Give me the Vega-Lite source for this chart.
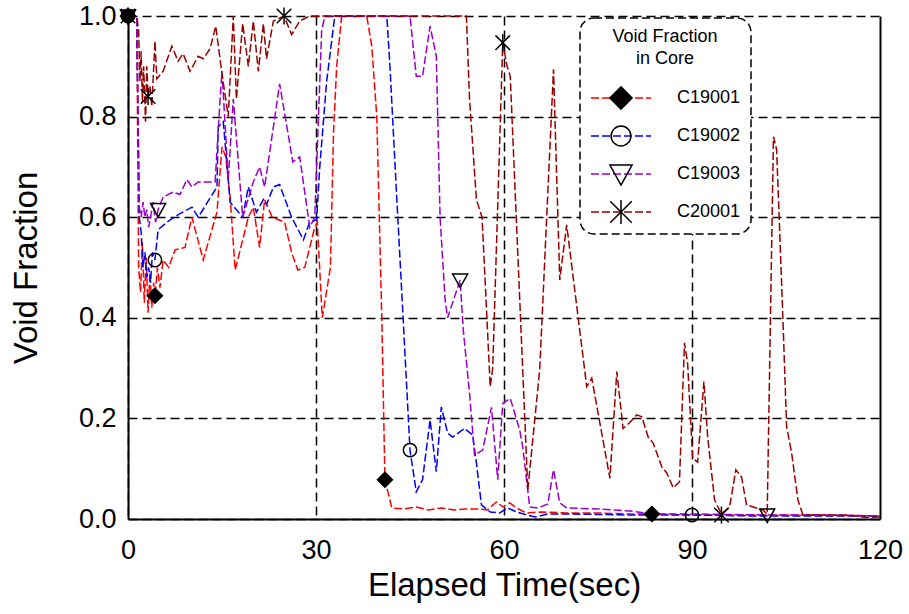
{
  "$schema": "https://vega.github.io/schema/vega-lite/v6.json",
  "width": 752,
  "height": 503,
  "autosize": {"type": "none"},
  "padding": {"left": 128, "top": 16, "right": 29, "bottom": 95},
  "background": "white",
  "config": {
    "view": {"stroke": null},
    "font": "Liberation Sans",
    "axis": {
      "domainColor": "black",
      "domainWidth": 2,
      "gridColor": "black",
      "gridWidth": 1.5,
      "ticks": false,
      "labelFontSize": 27,
      "labelColor": "black",
      "titleFontSize": 33,
      "titleFontWeight": "normal",
      "titleColor": "black"
    },
    "legend": {
      "strokeDash": [8, 4],
      "strokeWidth": 1.5,
      "cornerRadius": 14,
      "padding": 10,
      "labelFontSize": 18,
      "labelColor": "black",
      "titleFontSize": 18,
      "titleFontWeight": "normal",
      "titleLineHeight": 22,
      "titleAnchor": "middle",
      "titleColor": "black",
      "titlePadding": 18,
      "labelOffset": 25,
      "clipHeight": 24,
      "rowPadding": 14,
      "symbolSize": 3600,
      "symbolStrokeWidth": 1.5
    }
  },
  "datasets": {
    "lines": [
      {"series":"C19001","t":0,"v":1},{"series":"C19001","t":1.4,"v":1},{"series":"C19001","t":1.7,"v":0.5},{"series":"C19001","t":2.0,"v":0.45},{"series":"C19001","t":2.3,"v":0.55},{"series":"C19001","t":2.6,"v":0.43},{"series":"C19001","t":2.9,"v":0.52},{"series":"C19001","t":3.2,"v":0.41},{"series":"C19001","t":3.5,"v":0.49},{"series":"C19001","t":3.8,"v":0.42},{"series":"C19001","t":4.1,"v":0.47},{"series":"C19001","t":4.3,"v":0.44},{"series":"C19001","t":4.7,"v":0.5},{"series":"C19001","t":5.1,"v":0.46},{"series":"C19001","t":5.6,"v":0.515},{"series":"C19001","t":6.5,"v":0.5},{"series":"C19001","t":7.5,"v":0.535},{"series":"C19001","t":9.1,"v":0.54},{"series":"C19001","t":10.2,"v":0.6},{"series":"C19001","t":12,"v":0.515},{"series":"C19001","t":14.2,"v":0.61},{"series":"C19001","t":15,"v":0.74},{"series":"C19001","t":15.6,"v":0.72},{"series":"C19001","t":16.3,"v":0.64},{"series":"C19001","t":17.1,"v":0.495},{"series":"C19001","t":19.2,"v":0.6},{"series":"C19001","t":20,"v":0.62},{"series":"C19001","t":21,"v":0.54},{"series":"C19001","t":21.8,"v":0.635},{"series":"C19001","t":23,"v":0.6},{"series":"C19001","t":25,"v":0.59},{"series":"C19001","t":26.1,"v":0.53},{"series":"C19001","t":27.1,"v":0.495},{"series":"C19001","t":28.2,"v":0.5},{"series":"C19001","t":29.8,"v":0.58},{"series":"C19001","t":30.2,"v":0.59},{"series":"C19001","t":31,"v":0.4},{"series":"C19001","t":32.3,"v":0.5},{"series":"C19001","t":32.8,"v":0.77},{"series":"C19001","t":33.3,"v":0.9},{"series":"C19001","t":34.1,"v":1},{"series":"C19001","t":38.1,"v":1},{"series":"C19001","t":38.9,"v":0.94},{"series":"C19001","t":39.7,"v":0.8},{"series":"C19001","t":40.5,"v":0.4},{"series":"C19001","t":41,"v":0.078},{"series":"C19001","t":42.1,"v":0.022},{"series":"C19001","t":44,"v":0.02},{"series":"C19001","t":46,"v":0.024},{"series":"C19001","t":48,"v":0.018},{"series":"C19001","t":50,"v":0.022},{"series":"C19001","t":52,"v":0.018},{"series":"C19001","t":54,"v":0.02},{"series":"C19001","t":56,"v":0.02},{"series":"C19001","t":57.3,"v":0.018},{"series":"C19001","t":58.8,"v":0.034},{"series":"C19001","t":59.8,"v":0.024},{"series":"C19001","t":60.9,"v":0.032},{"series":"C19001","t":62,"v":0.022},{"series":"C19001","t":63.6,"v":0.012},{"series":"C19001","t":66,"v":0.014},{"series":"C19001","t":70,"v":0.012},{"series":"C19001","t":75,"v":0.012},{"series":"C19001","t":80,"v":0.01},{"series":"C19001","t":83.6,"v":0.01},{"series":"C19001","t":90,"v":0.008},{"series":"C19001","t":100,"v":0.008},{"series":"C19001","t":110,"v":0.008},{"series":"C19001","t":120,"v":0.006},
      {"series":"C19002","t":0,"v":1},{"series":"C19002","t":1.4,"v":1},{"series":"C19002","t":1.8,"v":0.6},{"series":"C19002","t":2.1,"v":0.57},{"series":"C19002","t":2.4,"v":0.5},{"series":"C19002","t":2.7,"v":0.53},{"series":"C19002","t":3.0,"v":0.48},{"series":"C19002","t":3.3,"v":0.5},{"series":"C19002","t":3.6,"v":0.47},{"series":"C19002","t":3.9,"v":0.53},{"series":"C19002","t":4.3,"v":0.515},{"series":"C19002","t":4.8,"v":0.575},{"series":"C19002","t":6.2,"v":0.59},{"series":"C19002","t":8,"v":0.605},{"series":"C19002","t":10.2,"v":0.62},{"series":"C19002","t":11.2,"v":0.6},{"series":"C19002","t":14.2,"v":0.66},{"series":"C19002","t":14.4,"v":0.78},{"series":"C19002","t":15.2,"v":0.79},{"series":"C19002","t":16.3,"v":0.63},{"series":"C19002","t":18.3,"v":0.6},{"series":"C19002","t":19.2,"v":0.66},{"series":"C19002","t":20.5,"v":0.61},{"series":"C19002","t":21.6,"v":0.635},{"series":"C19002","t":22.1,"v":0.625},{"series":"C19002","t":23.2,"v":0.66},{"series":"C19002","t":24.2,"v":0.665},{"series":"C19002","t":26.1,"v":0.6},{"series":"C19002","t":28,"v":0.555},{"series":"C19002","t":29,"v":0.59},{"series":"C19002","t":30.1,"v":0.595},{"series":"C19002","t":30.6,"v":0.7},{"series":"C19002","t":31.7,"v":0.87},{"series":"C19002","t":33,"v":1},{"series":"C19002","t":41.3,"v":1},{"series":"C19002","t":41.8,"v":0.9},{"series":"C19002","t":42.9,"v":0.635},{"series":"C19002","t":43.9,"v":0.4},{"series":"C19002","t":45,"v":0.137},{"series":"C19002","t":46,"v":0.054},{"series":"C19002","t":47,"v":0.078},{"series":"C19002","t":48.2,"v":0.197},{"series":"C19002","t":49.2,"v":0.094},{"series":"C19002","t":50,"v":0.223},{"series":"C19002","t":51,"v":0.171},{"series":"C19002","t":51.8,"v":0.163},{"series":"C19002","t":53.7,"v":0.18},{"series":"C19002","t":55,"v":0.167},{"series":"C19002","t":55.6,"v":0.111},{"series":"C19002","t":56.4,"v":0.028},{"series":"C19002","t":57.8,"v":0.014},{"series":"C19002","t":59.3,"v":0.012},{"series":"C19002","t":60.6,"v":0.022},{"series":"C19002","t":62,"v":0.014},{"series":"C19002","t":63.6,"v":0.008},{"series":"C19002","t":65,"v":0.004},{"series":"C19002","t":67,"v":0.01},{"series":"C19002","t":70,"v":0.01},{"series":"C19002","t":80,"v":0.008},{"series":"C19002","t":90,"v":0.008},{"series":"C19002","t":100,"v":0.006},{"series":"C19002","t":110,"v":0.006},{"series":"C19002","t":120,"v":0.006},
      {"series":"C19003","t":0,"v":1},{"series":"C19003","t":1.4,"v":1},{"series":"C19003","t":1.8,"v":0.62},{"series":"C19003","t":2.1,"v":0.6},{"series":"C19003","t":2.4,"v":0.63},{"series":"C19003","t":2.7,"v":0.6},{"series":"C19003","t":3.0,"v":0.615},{"series":"C19003","t":3.3,"v":0.58},{"series":"C19003","t":3.6,"v":0.6},{"series":"C19003","t":4.0,"v":0.63},{"series":"C19003","t":4.4,"v":0.59},{"series":"C19003","t":4.8,"v":0.615},{"series":"C19003","t":5.6,"v":0.64},{"series":"C19003","t":7.2,"v":0.65},{"series":"C19003","t":8.3,"v":0.645},{"series":"C19003","t":9.4,"v":0.675},{"series":"C19003","t":10.2,"v":0.66},{"series":"C19003","t":11.2,"v":0.67},{"series":"C19003","t":13.9,"v":0.67},{"series":"C19003","t":14.7,"v":0.835},{"series":"C19003","t":15,"v":0.89},{"series":"C19003","t":16,"v":0.675},{"series":"C19003","t":16.8,"v":0.835},{"series":"C19003","t":18.3,"v":0.6},{"series":"C19003","t":20,"v":0.67},{"series":"C19003","t":21,"v":0.7},{"series":"C19003","t":21.8,"v":0.66},{"series":"C19003","t":24.2,"v":0.865},{"series":"C19003","t":26.3,"v":0.71},{"series":"C19003","t":27.4,"v":0.72},{"series":"C19003","t":29,"v":0.58},{"series":"C19003","t":29.8,"v":0.6},{"series":"C19003","t":30.1,"v":0.7},{"series":"C19003","t":30.9,"v":0.97},{"series":"C19003","t":31.4,"v":1},{"series":"C19003","t":45,"v":1},{"series":"C19003","t":46,"v":0.88},{"series":"C19003","t":47,"v":0.88},{"series":"C19003","t":48.2,"v":0.98},{"series":"C19003","t":49.2,"v":0.92},{"series":"C19003","t":49.8,"v":0.6},{"series":"C19003","t":50.6,"v":0.436},{"series":"C19003","t":51,"v":0.4},{"series":"C19003","t":53,"v":0.475},{"series":"C19003","t":53.5,"v":0.376},{"series":"C19003","t":54.5,"v":0.25},{"series":"C19003","t":55.3,"v":0.127},{"series":"C19003","t":56.6,"v":0.137},{"series":"C19003","t":58,"v":0.222},{"series":"C19003","t":59,"v":0.078},{"series":"C19003","t":59.8,"v":0.23},{"series":"C19003","t":61,"v":0.24},{"series":"C19003","t":62.5,"v":0.177},{"series":"C19003","t":63,"v":0.143},{"series":"C19003","t":64.1,"v":0.024},{"series":"C19003","t":65.4,"v":0.022},{"series":"C19003","t":67,"v":0.03},{"series":"C19003","t":67.9,"v":0.098},{"series":"C19003","t":68.9,"v":0.032},{"series":"C19003","t":70,"v":0.022},{"series":"C19003","t":75,"v":0.02},{"series":"C19003","t":80,"v":0.016},{"series":"C19003","t":84,"v":0.01},{"series":"C19003","t":90,"v":0.01},{"series":"C19003","t":102,"v":0.008},{"series":"C19003","t":110,"v":0.008},{"series":"C19003","t":120,"v":0.006},
      {"series":"C20001","t":0,"v":1},{"series":"C20001","t":1.4,"v":1},{"series":"C20001","t":1.7,"v":0.97},{"series":"C20001","t":1.9,"v":0.87},{"series":"C20001","t":2.1,"v":0.93},{"series":"C20001","t":2.3,"v":0.83},{"series":"C20001","t":2.5,"v":0.9},{"series":"C20001","t":2.8,"v":0.79},{"series":"C20001","t":3.0,"v":0.9},{"series":"C20001","t":3.2,"v":0.84},{"series":"C20001","t":3.5,"v":0.86},{"series":"C20001","t":3.8,"v":0.82},{"series":"C20001","t":4.3,"v":0.95},{"series":"C20001","t":4.6,"v":0.875},{"series":"C20001","t":5.6,"v":0.89},{"series":"C20001","t":7,"v":0.94},{"series":"C20001","t":8,"v":0.91},{"series":"C20001","t":8.8,"v":0.925},{"series":"C20001","t":9.9,"v":0.89},{"series":"C20001","t":11.2,"v":0.92},{"series":"C20001","t":12,"v":0.915},{"series":"C20001","t":13.1,"v":0.935},{"series":"C20001","t":14,"v":0.98},{"series":"C20001","t":15,"v":0.885},{"series":"C20001","t":16,"v":0.8},{"series":"C20001","t":16.8,"v":1},{"series":"C20001","t":17.3,"v":0.835},{"series":"C20001","t":18.3,"v":0.985},{"series":"C20001","t":19.2,"v":0.9},{"series":"C20001","t":20,"v":0.99},{"series":"C20001","t":20.8,"v":0.89},{"series":"C20001","t":21.6,"v":0.985},{"series":"C20001","t":22.1,"v":0.915},{"series":"C20001","t":23.2,"v":0.99},{"series":"C20001","t":24.9,"v":1},{"series":"C20001","t":26.1,"v":0.963},{"series":"C20001","t":27.4,"v":0.99},{"series":"C20001","t":29,"v":1},{"series":"C20001","t":54,"v":1},{"series":"C20001","t":54.5,"v":0.835},{"series":"C20001","t":55.6,"v":0.635},{"series":"C20001","t":56.5,"v":0.6},{"series":"C20001","t":57.8,"v":0.263},{"series":"C20001","t":58.2,"v":0.3},{"series":"C20001","t":59.8,"v":0.947},{"series":"C20001","t":60.5,"v":0.9},{"series":"C20001","t":61,"v":0.88},{"series":"C20001","t":63.8,"v":0.058},{"series":"C20001","t":65.7,"v":0.297},{"series":"C20001","t":67.9,"v":0.894},{"series":"C20001","t":68.9,"v":0.475},{"series":"C20001","t":70,"v":0.585},{"series":"C20001","t":73.2,"v":0.263},{"series":"C20001","t":74,"v":0.28},{"series":"C20001","t":76.9,"v":0.081},{"series":"C20001","t":78,"v":0.293},{"series":"C20001","t":79,"v":0.18},{"series":"C20001","t":79.7,"v":0.187},{"series":"C20001","t":81.2,"v":0.207},{"series":"C20001","t":82,"v":0.203},{"series":"C20001","t":83,"v":0.163},{"series":"C20001","t":83.8,"v":0.151},{"series":"C20001","t":85.2,"v":0.103},{"series":"C20001","t":86,"v":0.091},{"series":"C20001","t":87,"v":0.062},{"series":"C20001","t":88,"v":0.074},{"series":"C20001","t":88.8,"v":0.35},{"series":"C20001","t":89.3,"v":0.31},{"series":"C20001","t":90.1,"v":0.121},{"series":"C20001","t":90.9,"v":0.113},{"series":"C20001","t":91.9,"v":0.273},{"series":"C20001","t":92.5,"v":0.163},{"series":"C20001","t":93.6,"v":0.038},{"series":"C20001","t":94.7,"v":0.01},{"series":"C20001","t":96,"v":0.024},{"series":"C20001","t":97,"v":0.098},{"series":"C20001","t":97.9,"v":0.084},{"series":"C20001","t":98.7,"v":0.028},{"series":"C20001","t":101.3,"v":0.018},{"series":"C20001","t":102,"v":0.01},{"series":"C20001","t":103,"v":0.76},{"series":"C20001","t":103.5,"v":0.735},{"series":"C20001","t":104,"v":0.57},{"series":"C20001","t":104.5,"v":0.4},{"series":"C20001","t":105.1,"v":0.183},{"series":"C20001","t":105.9,"v":0.131},{"series":"C20001","t":106.9,"v":0.038},{"series":"C20001","t":107.7,"v":0.008},{"series":"C20001","t":115,"v":0.008},{"series":"C20001","t":118,"v":0.003},{"series":"C20001","t":120,"v":0.004}
    ],
    "marks": [
      {"name":"C19001","t":0,"v":1},{"name":"C19001","t":4.3,"v":0.444},{"name":"C19001","t":41,"v":0.078},{"name":"C19001","t":83.6,"v":0.01},
      {"name":"C19002","t":0,"v":1},{"name":"C19002","t":4.3,"v":0.515},{"name":"C19002","t":45,"v":0.137},{"name":"C19002","t":90,"v":0.008},
      {"name":"C19003","t":0,"v":1},{"name":"C19003","t":4.8,"v":0.615},{"name":"C19003","t":53,"v":0.475},{"name":"C19003","t":102,"v":0.008},
      {"name":"C20001","t":0,"v":1},{"name":"C20001","t":3.2,"v":0.84},{"name":"C20001","t":24.9,"v":1},{"name":"C20001","t":59.8,"v":0.947},{"name":"C20001","t":94.7,"v":0.008}
    ]
  },
  "layer": [
    {
      "data": {"name": "lines"},
      "mark": {"type": "line", "strokeWidth": 1.5, "strokeDash": [8, 3]},
      "encoding": {
        "x": {
          "field": "t", "type": "quantitative",
          "scale": {"domain": [0, 120], "nice": false, "zero": false},
          "axis": {
            "values": [0, 30, 60, 90, 120],
            "title": "Elapsed Time(sec)",
            "grid": true,
            "gridDash": {"condition": {"test": "datum.value === 120", "value": []}, "value": [9, 5]},
            "gridWidth": {"condition": {"test": "datum.value === 120", "value": 2}, "value": 1.5},
            "labelPadding": 18,
            "titlePadding": 6,
            "labelFlush": false
          }
        },
        "y": {
          "field": "v", "type": "quantitative",
          "scale": {"domain": [0, 1], "nice": false},
          "axis": {
            "values": [0, 0.2, 0.4, 0.6, 0.8, 1.0],
            "format": ".1f",
            "title": "Void Fraction",
            "grid": true,
            "gridDash": [9, 5],
            "labelPadding": 12,
            "titlePadding": 35,
            "labelFlush": false
          }
        },
        "color": {
          "field": "series", "type": "nominal",
          "scale": {"domain": ["C19001", "C19002", "C19003", "C20001"], "range": ["#FF0000", "#0000FF", "#9900CC", "#9B0000"]},
          "legend": {
            "title": ["Void Fraction", "in Core"],
            "orient": "none",
            "legendX": 452,
            "legendY": 2,
            "symbolType": "M-1,0L1,0M0,-0.37M0,0.37",
            "symbolDash": [8, 3],
            "fillColor": "white",
            "strokeColor": "black"
          }
        }
      }
    },
    {
      "data": {"name": "marks"},
      "mark": {"type": "point", "filled": false, "stroke": "black", "strokeWidth": 1.5, "size": 1640, "opacity": 1},
      "encoding": {
        "x": {"field": "t", "type": "quantitative"},
        "y": {"field": "v", "type": "quantitative"},
        "shape": {
          "field": "name", "type": "nominal",
          "scale": {"range": [
            "M0,-0.37L0.37,0L0,0.37L-0.37,0ZM0,-0.32L0.32,0L0,0.32L-0.32,0ZM0,-0.27L0.27,0L0,0.27L-0.27,0ZM0,-0.22L0.22,0L0,0.22L-0.22,0ZM0,-0.17L0.17,0L0,0.17L-0.17,0ZM0,-0.12L0.12,0L0,0.12L-0.12,0ZM0,-0.07L0.07,0L0,0.07L-0.07,0ZM-0.03,0L0.03,0",
            "M-0.33,0A0.33,0.33 0 1,0 0.33,0A0.33,0.33 0 1,0 -0.33,0ZM0,-0.37M0,0.37",
            "M-0.37,-0.3L0.37,-0.3L0,0.37ZM0,-0.37",
            "M0,-0.42L0,0.42M-0.36,-0.36L0.36,0.36M-0.36,0.36L0.36,-0.36"
          ]},
          "legend": {
            "title": ["Void Fraction", "in Core"],
            "titleColor": "transparent",
            "labelColor": "transparent",
            "orient": "none",
            "legendX": 452,
            "legendY": 2,
            "strokeColor": "transparent",
            "symbolStrokeColor": "black",
            "symbolFillColor": "transparent"
          }
        }
      }
    }
  ]
}
